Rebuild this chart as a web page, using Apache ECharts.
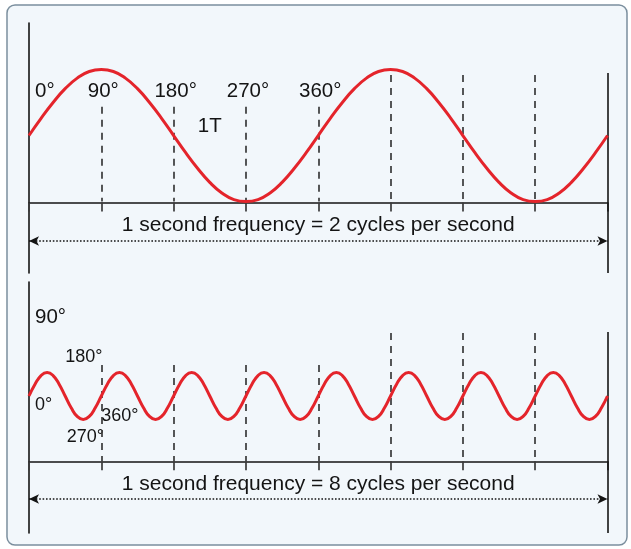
<!DOCTYPE html>
<html><head><meta charset="utf-8">
<script src="https://cdn.jsdelivr.net/npm/echarts@6/dist/echarts.min.js"></script>
<style>html,body{margin:0;padding:0;background:#fff}#c{width:631px;height:549px}</style>
</head><body><div id="c"></div><script>
// ---------- data ----------
// top panel: 2 cycles in one second, phase in degrees of that wave
const topAngles = [0,15,30,45,60,75,90,105,120,135,150,165,180,195,210,225,240,255,270,285,300,315,330,345,
                   360,375,390,405,420,435,450,465,480,495,510,525,540,555,570,585,600,615,630,645,660,675,690,705,720];
const topWave   = [0,0.26,0.5,0.71,0.87,0.97,1,0.97,0.87,0.71,0.5,0.26,0,-0.26,-0.5,-0.71,-0.87,-0.97,-1,-0.97,-0.87,-0.71,-0.5,-0.26,
                   0,0.26,0.5,0.71,0.87,0.97,1,0.97,0.87,0.71,0.5,0.26,0,-0.26,-0.5,-0.71,-0.87,-0.97,-1,-0.97,-0.87,-0.71,-0.5,-0.26,0];
// bottom panel: 8 cycles in one second, phase in degrees of that wave
const bottomAngles = [0,30,60,90,120,150,180,210,240,270,300,330,
  360,390,420,450,480,510,540,570,600,630,660,690,
  720,750,780,810,840,870,900,930,960,990,1020,1050,
  1080,1110,1140,1170,1200,1230,1260,1290,1320,1350,1380,1410,
  1440,1470,1500,1530,1560,1590,1620,1650,1680,1710,1740,1770,
  1800,1830,1860,1890,1920,1950,1980,2010,2040,2070,2100,2130,
  2160,2190,2220,2250,2280,2310,2340,2370,2400,2430,2460,2490,
  2520,2550,2580,2610,2640,2670,2700,2730,2760,2790,2820,2850,2880];
const bottomWave = [0,0.5,0.87,1,0.87,0.5,0,-0.5,-0.87,-1,-0.87,-0.5,
  0,0.5,0.87,1,0.87,0.5,0,-0.5,-0.87,-1,-0.87,-0.5,
  0,0.5,0.87,1,0.87,0.5,0,-0.5,-0.87,-1,-0.87,-0.5,
  0,0.5,0.87,1,0.87,0.5,0,-0.5,-0.87,-1,-0.87,-0.5,
  0,0.5,0.87,1,0.87,0.5,0,-0.5,-0.87,-1,-0.87,-0.5,
  0,0.5,0.87,1,0.87,0.5,0,-0.5,-0.87,-1,-0.87,-0.5,
  0,0.5,0.87,1,0.87,0.5,0,-0.5,-0.87,-1,-0.87,-0.5,
  0,0.5,0.87,1,0.87,0.5,0,-0.5,-0.87,-1,-0.87,-0.5,0];
const topTickLabels = ['0°','90°','180°','270°','360°'];
const topTickAngles = [0,90,180,270,360];
const periodLabel = '1T';
const periodAngle = 225;
const topMarkAnglesShort = [90,180,270,360];
const topMarkAnglesLong  = [450,540,630];
const bottomLabels = ['90°','180°','0°','360°','270°'];
const bottomLabelAngles = [30,180,30,360,188];
const bottomLabelLevels = [3.34,1.66,-0.38,-0.87,-1.745];
const bottomMarkAnglesShort = [360,720,1080,1440];
const bottomMarkAnglesLong  = [1800,2160,2520];
const captions = ['1 second frequency = 2 cycles per second','1 second frequency = 8 cycles per second'];

// ---------- style ----------
const FONT = '"Liberation Sans", Arial, Helvetica, sans-serif';
const RED = '#e4242b', INK = '#141414', DASH = '#3a3a3a';
const dashStyle = {color: DASH, width: 1.7, type: [7, 6]};
const solidStyle = {color: INK, width: 1.6, type: 'solid'};
const dotStyle = {color: INK, width: 1.5, type: [1.6, 1.8]};

function vSeg(angles, from, to, style) {
  return angles.map(a => [{coord: [a, from], lineStyle: style}, {coord: [a, to]}]);
}
function arrowLine(x0, x1, y) {
  return [{coord: [x0, y], lineStyle: dotStyle, symbol: 'arrow', symbolSize: [7, 10]},
          {coord: [x1, y], symbol: 'arrow', symbolSize: [7, 10]}];
}
function xAxisCfg(idx, max, interval, offset, name) {
  return {gridIndex: idx, type: 'value', min: 0, max: max, interval: interval, offset: offset,
    axisLine: {show: true, onZero: false, lineStyle: {color: INK, width: 1.6}},
    axisTick: {show: true, length: 9, lineStyle: {color: DASH, width: 1.7}},
    axisLabel: {show: false}, splitLine: {show: false},
    name: name, nameLocation: 'middle', nameGap: 12,
    nameTextStyle: {fontFamily: FONT, fontSize: 21, color: INK}};
}
function yAxisCfg(idx, min, max) {
  return {gridIndex: idx, type: 'value', min: min, max: max,
    axisLine: {show: true, onZero: false, lineStyle: {color: INK, width: 1.6}},
    axisTick: {show: false}, axisLabel: {show: false}, splitLine: {show: false}};
}
const labelBase = {show: true, fontFamily: FONT, color: INK, opacity: 1, textBorderWidth: 0};

const topLabelData = topTickLabels.map((t, i) => i === 0
  ? {value: [topTickAngles[i], 0.674], label: Object.assign({}, labelBase, {formatter: t, position: 'right', distance: 6, fontSize: 20.5})}
  : {value: [topTickAngles[i], 0.674], label: Object.assign({}, labelBase, {formatter: t, position: 'inside', offset: [2, 0], fontSize: 20.5})});
topLabelData.push({value: [periodAngle, 0.14], label: Object.assign({}, labelBase, {formatter: periodLabel, position: 'inside', fontSize: 20.5})});

const bottomLabelData = bottomLabels.map((t, i) => ({
  value: [bottomLabelAngles[i], bottomLabelLevels[i]],
  label: Object.assign({}, labelBase, {formatter: t, position: 'right', distance: 0, fontSize: i === 0 ? 20.5 : 18})}));

const option = {
  animation: false,
  backgroundColor: '#ffffff',
  graphic: [{type: 'rect', z: -100, silent: true,
    shape: {x: 7, y: 5, width: 620, height: 540, r: 8},
    style: {fill: '#f2f7fb', stroke: '#7b8f9e', lineWidth: 1.5}}],
  grid: [
    {left: 29, right: 23.5, top: 23, bottom: 276, outerBoundsMode: 'none'},
    {left: 29, right: 23.5, top: 282, bottom: 16, outerBoundsMode: 'none'}
  ],
  xAxis: [xAxisCfg(0, 720, 90, -70.5, captions[0]), xAxisCfg(1, 2880, 360, -71.7, captions[1])],
  yAxis: [yAxisCfg(0, -2.083, 1.705), yAxisCfg(1, -5.83, 4.851)],
  series: [
    {type: 'line', xAxisIndex: 0, yAxisIndex: 0, clip: false, smooth: 0.5, showSymbol: false, z: 5,
     data: topAngles.map((a, i) => [a, topWave[i]]),
     lineStyle: {color: RED, width: 3},
     markLine: {silent: true, symbol: 'none', label: {show: false}, animation: false,
       data: [].concat(
         vSeg(topMarkAnglesShort, 0.436, -1, dashStyle),
         vSeg(topMarkAnglesLong, 0.917, -1, dashStyle),
         vSeg([720], 0.947, -2.083, solidStyle),
         [arrowLine(0, 720, -1.598)])}},
    {type: 'scatter', xAxisIndex: 0, yAxisIndex: 0, symbolSize: 0, silent: true,
     itemStyle: {opacity: 1}, data: topLabelData},
    {type: 'line', xAxisIndex: 1, yAxisIndex: 1, clip: false, smooth: 0.5, showSymbol: false, z: 5,
     data: bottomAngles.map((a, i) => [a, bottomWave[i]]),
     lineStyle: {color: RED, width: 3},
     markLine: {silent: true, symbol: 'none', label: {show: false}, animation: false,
       data: [].concat(
         vSeg(bottomMarkAnglesShort, 1.319, -2.766, dashStyle),
         vSeg(bottomMarkAnglesLong, 2.681, -2.766, dashStyle),
         vSeg([2880], 2.723, -5.83, solidStyle),
         [arrowLine(0, 2880, -4.383)])}},
    {type: 'scatter', xAxisIndex: 1, yAxisIndex: 1, symbolSize: 0, silent: true,
     itemStyle: {opacity: 1}, data: bottomLabelData}
  ]
};
const chart = echarts.init(document.getElementById('c'), null, {renderer: 'canvas'});
chart.setOption(option);
</script></body></html>
